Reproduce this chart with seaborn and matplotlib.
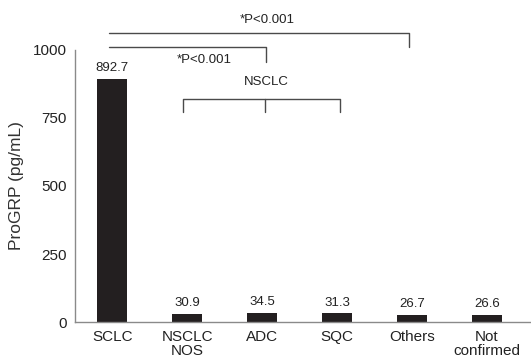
import matplotlib
matplotlib.use("Agg")
import matplotlib.pyplot as plt
import seaborn as sns
import pandas as pd

categories = ["SCLC", "NSCLC\nNOS", "ADC", "SQC", "Others", "Not\nconfirmed"]
values = [892.7, 30.9, 34.5, 31.3, 26.7, 26.6]
value_labels = ["892.7", "30.9", "34.5", "31.3", "26.7", "26.6"]
yticks = [0, 250, 500, 750, 1000]

sns.set_theme(style="white")
plt.rcParams["font.family"] = ["Liberation Sans", "DejaVu Sans"]

df = pd.DataFrame({"cat": categories, "val": values})

fig = plt.figure(figsize=(5.31, 3.57), dpi=100)
ax = fig.add_axes([0.141, 0.098, 0.859, 0.762])

sns.barplot(data=df, x="cat", y="val", color="#231f20", width=0.4,
            saturation=1, ax=ax, edgecolor="#231f20", linewidth=0)

text_c = "#222222"
for i, (v, lab) in enumerate(zip(values, value_labels)):
    ax.annotate(lab, (i, v), xytext=(0, 3.5), textcoords="offset points",
                ha="center", va="bottom", fontsize=9.5, color=text_c)

ax.set_xlim(-0.5, 5.59)
ax.set_ylim(0, 1000)
ax.set_yticks(yticks)
ax.set_yticklabels([str(t) for t in yticks], fontsize=11, color=text_c)
ax.tick_params(axis="both", length=0)
ax.tick_params(axis="y", pad=6)
ax.tick_params(axis="x", pad=6)
for lbl in ax.get_xticklabels():
    lbl.set_fontsize(11)
    lbl.set_color(text_c)
    lbl.set_linespacing(0.95)
ax.set_xlabel("")
ax.set_ylabel("ProGRP (pg/mL)", fontsize=12.5, color="#333333", labelpad=6)

for s in ["top", "right"]:
    ax.spines[s].set_visible(False)
for s in ["left", "bottom"]:
    ax.spines[s].set_color("#8a8a8a")
    ax.spines[s].set_linewidth(1.0)

lc = "#4a4a4a"
kw = dict(color=lc, lw=1.0, clip_on=False)
# outer bracket SCLC vs Others
ax.plot([-0.04, -0.04, 3.96, 3.96], [1063, 1063, 1063, 1010], **kw)
ax.text(2.07, 1110, "*P<0.001", ha="center", va="center", fontsize=9.5, color=text_c)
# SCLC vs NSCLC
ax.plot([-0.04, 2.05, 2.05], [1010, 1010, 956], **kw)
ax.text(1.23, 963, "*P<0.001", ha="center", va="center", fontsize=9.5, color=text_c)
# NSCLC group bracket
ax.plot([0.95, 0.95, 3.04, 3.04], [772, 820, 820, 772], **kw)
ax.plot([2.04, 2.04], [820, 772], **kw)
ax.text(2.05, 882, "NSCLC", ha="center", va="center", fontsize=9.5, color=text_c)

fig.savefig("out.png", dpi=100)
